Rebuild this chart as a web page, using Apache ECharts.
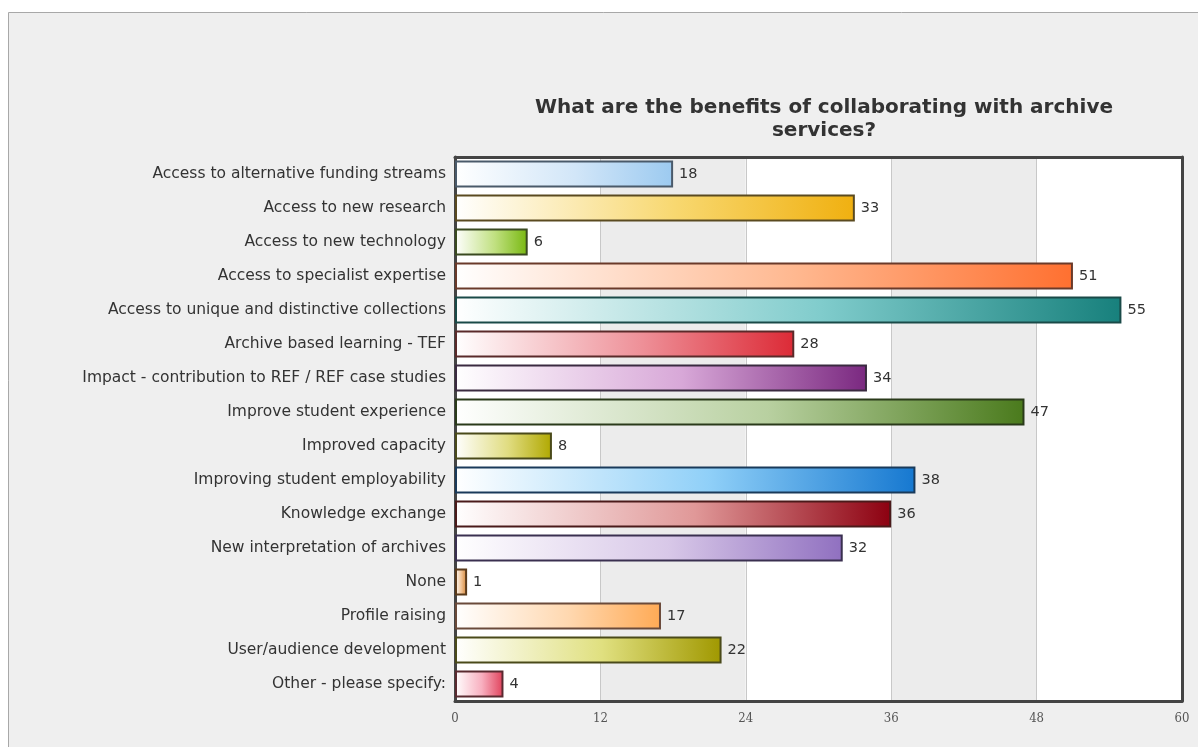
<!DOCTYPE html>
<html>
<head>
<meta charset="utf-8">
<script src="https://cdn.jsdelivr.net/npm/echarts@6/dist/echarts.min.js"></script>
<style>
html,body{margin:0;padding:0;background:#fff;}
#chart{width:1198px;height:747px;}
</style>
</head>
<body>
<div id="chart"></div>
<script>
const titleText = "What are the benefits of collaborating with archive\nservices?";
const categories = [
  "Access to alternative funding streams",
  "Access to new research",
  "Access to new technology",
  "Access to specialist expertise",
  "Access to unique and distinctive collections",
  "Archive based learning - TEF",
  "Impact - contribution to REF / REF case studies",
  "Improve student experience",
  "Improved capacity",
  "Improving student employability",
  "Knowledge exchange",
  "New interpretation of archives",
  "None",
  "Profile raising",
  "User/audience development",
  "Other - please specify:"
];
const values = [18, 33, 6, 51, 55, 28, 34, 47, 8, 38, 36, 32, 1, 17, 22, 4];
const xTicks = [0, 12, 24, 36, 48, 60];

// style palette: [mid, end, border]
const palette = [
  ["#d2e6f8", "#9ccaf0", "#4a5a6a"],
  ["#f8d870", "#f0b010", "#5a4a20"],
  ["#c0e080", "#78b810", "#3a4a20"],
  ["#ffb890", "#ff7030", "#6a3a2a"],
  ["#80cccc", "#17807c", "#1a4a48"],
  ["#ee9098", "#dc2a36", "#5a2a2a"],
  ["#d8a8d8", "#7a2880", "#3a2a40"],
  ["#b8d0a0", "#4a7a1c", "#2a3a1a"],
  ["#e0dc80", "#b0a800", "#4a4a1a"],
  ["#90d0f8", "#1678d0", "#1a3a5a"],
  ["#e09898", "#8c0010", "#4a1a1a"],
  ["#d8c8e8", "#9070c0", "#3a3050"],
  ["#f0c090", "#d08030", "#5a3a1a"],
  ["#ffd8b0", "#ffaa55", "#6a4a3a"],
  ["#e0e080", "#a09800", "#4a4a1a"],
  ["#f8b0c0", "#e0405a", "#5a2a30"]
];

const frameLine = {show: true, onZero: false, lineStyle: {color: '#444444', width: 3}};

const chart = echarts.init(document.getElementById('chart'));
const seriesData = values.map((v, i) => ({
  value: v,
  itemStyle: {
    color: new echarts.graphic.LinearGradient(0, 0, 1, 0, [
      {offset: 0, color: '#ffffff'},
      {offset: 0.55, color: palette[i][0]},
      {offset: 1, color: palette[i][1]}
    ]),
    borderColor: palette[i][2],
    borderWidth: 2
  }
}));

chart.setOption({
  backgroundColor: '#ffffff',
  animation: false,
  graphic: [{
    type: 'rect',
    z: -100,
    silent: true,
    shape: {x: 8.5, y: 12.5, width: 1300, height: 800},
    style: {fill: '#efefef', stroke: '#a8a8a8', lineWidth: 1}
  }],
  title: {
    text: titleText,
    left: 819,
    textAlign: 'center',
    top: 91,
    textStyle: {
      fontFamily: 'DejaVu Sans',
      fontWeight: 'bold',
      fontSize: 20,
      lineHeight: 23,
      color: '#333333'
    }
  },
  grid: {
    left: 455, right: 16, top: 157, bottom: 46,
    show: true,
    backgroundColor: '#ffffff',
    borderWidth: 0,
    containLabel: false
  },
  xAxis: [{
    type: 'value',
    min: xTicks[0],
    max: xTicks[xTicks.length - 1],
    interval: 12,
    axisLine: frameLine,
    axisTick: {show: false},
    axisLabel: {
      color: '#555', fontSize: 13, fontFamily: 'DejaVu Serif Condensed, Liberation Serif, serif', margin: 11
    },
    splitLine: {show: true, lineStyle: {color: '#c8c8c8', width: 1}},
    splitArea: {show: true, areaStyle: {color: ['#ffffff', '#ececec']}}
  }, {
    type: 'value',
    position: 'top',
    min: xTicks[0],
    max: xTicks[xTicks.length - 1],
    interval: 12,
    axisLine: frameLine,
    axisTick: {show: false},
    axisLabel: {show: false},
    splitLine: {show: false}
  }],
  yAxis: [{
    type: 'category',
    data: categories,
    inverse: true,
    axisLine: frameLine,
    axisTick: {show: false},
    axisLabel: {
      color: '#333333', fontSize: 15.5, fontFamily: 'DejaVu Sans', margin: 9
    },
    splitLine: {show: false}
  }, {
    type: 'category',
    data: categories,
    inverse: true,
    position: 'right',
    axisLine: frameLine,
    axisTick: {show: false},
    axisLabel: {show: false},
    splitLine: {show: false}
  }],
  series: [{
    type: 'bar',
    data: seriesData,
    barCategoryGap: '20%',
    label: {
      show: true,
      position: 'right',
      distance: 6,
      color: '#333333',
      fontSize: 14.5,
      fontFamily: 'DejaVu Sans'
    }
  }]
});
</script>
</body>
</html>
